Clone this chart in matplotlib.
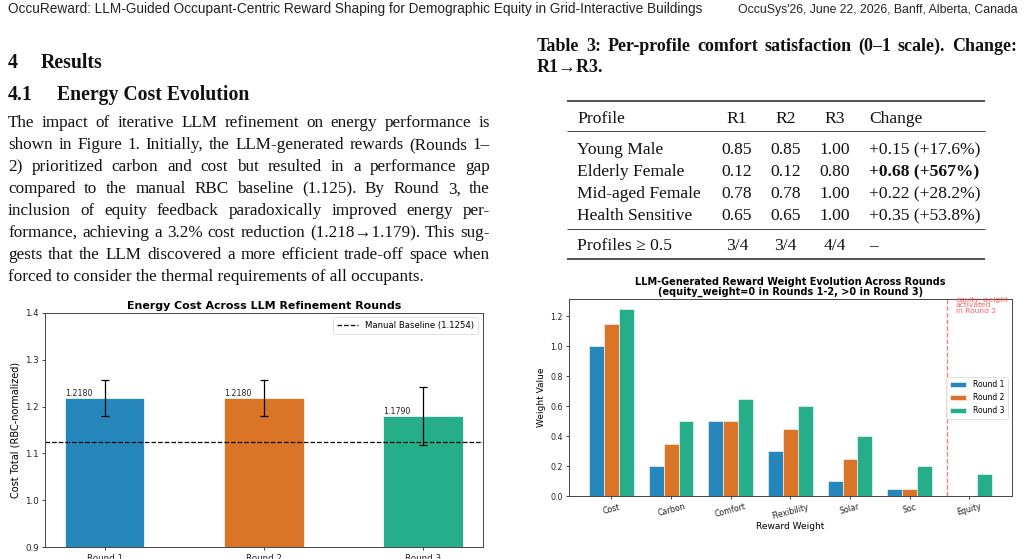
import matplotlib
matplotlib.use("Agg")
import matplotlib.pyplot as plt
from matplotlib import font_manager as fm
import numpy as np

# ---------------- data ----------------
header_left = "OccuReward: LLM-Guided Occupant-Centric Reward Shaping for Demographic Equity in Grid-Interactive Buildings"
header_right = "OccuSys'26, June 22, 2026, Banff, Alberta, Canada"

body_lines = [
    "The impact of iterative LLM refinement on energy performance is",
    "shown in Figure 1. Initially, the LLM-generated rewards (Rounds 1–",
    "2) prioritized carbon and cost but resulted in a performance gap",
    "compared to the manual RBC baseline (1.125). By Round 3, the",
    "inclusion of equity feedback paradoxically improved energy per-",
    "formance, achieving a 3.2% cost reduction (1.218→1.179). This sug-",
    "gests that the LLM discovered a more efficient trade-off space when",
    "forced to consider the thermal requirements of all occupants.",
]

caption_lines = ["Table 3: Per-profile comfort satisfaction (0–1 scale). Change:", "R1→R3."]
table_header = ["Profile", "R1", "R2", "R3", "Change"]
profiles = ["Young Male", "Elderly Female", "Mid-aged Female", "Health Sensitive"]
r1_vals = ["0.85", "0.12", "0.78", "0.65"]
r2_vals = ["0.85", "0.12", "0.78", "0.65"]
r3_vals = ["1.00", "0.80", "1.00", "1.00"]
changes = ["+0.15 (+17.6%)", "+0.68 (+567%)", "+0.22 (+28.2%)", "+0.35 (+53.8%)"]
bold_change = [False, True, False, False]
summary_row = ["Profiles ≥ 0.5", "3/4", "3/4", "4/4", "–"]

rounds = ["Round 1", "Round 2", "Round 3"]
cost_values = [1.218, 1.218, 1.179]
cost_errors = [0.038, 0.038, 0.062]
manual_baseline = 1.1254

weight_names = ["Cost", "Carbon", "Comfort", "Flexibility", "Solar", "Soc", "Equity"]
w_round1 = [1.00, 0.20, 0.50, 0.30, 0.10, 0.05, 0.00]
w_round2 = [1.15, 0.35, 0.50, 0.45, 0.25, 0.05, 0.00]
w_round3 = [1.25, 0.50, 0.65, 0.60, 0.40, 0.20, 0.15]

colors = ["#2687BD", "#DA7427", "#26AE8A"]

# ---------------- figure ----------------
W, H = 1024, 559
fig = plt.figure(figsize=(W / 100, H / 100), dpi=100)
page = fig.add_axes([0, 0, 1, 1], zorder=0)
page.set_xlim(0, W)
page.set_ylim(H, 0)
page.axis("off")
renderer = fig.canvas.get_renderer()

names = {f.name for f in fm.fontManager.ttflist}
serif = [n for n in ["Liberation Serif", "DejaVu Serif"] if n in names] or ["serif"]
hdr_fam = [n for n in ["Liberation Sans Narrow", "Liberation Sans", "DejaVu Sans"] if n in names]


def width_of(s, **kw):
    t = page.text(0, 0, s, **kw)
    w = t.get_window_extent(renderer).width
    t.remove()
    return w


def fit_text(x0, x1, y, s, **kw):
    w = width_of(s, fontsize=10, **kw)
    fs = 10 * (x1 - x0) / w
    page.text(x0, y, s, fontsize=fs, va="baseline", ha="left", **kw)


def justify(x0, x1, y, s, **kw):
    words = s.split(" ")
    ws = [width_of(w, **kw) for w in words]
    gap = (x1 - x0 - sum(ws)) / (len(words) - 1)
    x = x0
    for w, ww in zip(words, ws):
        page.text(x, y, w, va="baseline", ha="left", **kw)
        x += ww + gap


def auto_size(lines, target, cap, **kw):
    mw = max(width_of(l, fontsize=10, **kw) for l in lines)
    return min(10 * target / mw, cap)


# header
fit_text(8, 702, 12.5, header_left, family=hdr_fam, color="#222222")
fit_text(738, 1018, 12.5, header_right, family=hdr_fam, color="#222222")

# headings
hkw = dict(family=serif, fontsize=14.2, fontweight="bold", va="baseline", color="#111111")
page.text(8, 68.3, "4", **hkw)
page.text(40.7, 68.3, "Results", **hkw)
page.text(8, 100.3, "4.1", **hkw)
page.text(57.3, 100.3, "Energy Cost Evolution", **hkw)

# body
bfs = auto_size(body_lines[:-1], 474, 13.6, family=serif)
bkw = dict(family=serif, fontsize=bfs, color="#111111")
for i, line in enumerate(body_lines):
    y = 127.3 + 22 * i
    if i < len(body_lines) - 1:
        justify(8, 490, y, line, **bkw)
    else:
        page.text(8, y, line, va="baseline", ha="left", **bkw)

# table caption
cfs = auto_size(caption_lines[:1], 470, 13.0, family=serif, fontweight="bold")
ckw = dict(family=serif, fontsize=cfs, fontweight="bold", color="#111111")
justify(537, 1017, 51, caption_lines[0], **ckw)
page.text(537, 71.5, caption_lines[1], va="baseline", ha="left", **ckw)

# table
tkw = dict(family=serif, fontsize=12.6, color="#111111", va="baseline")
rx0, rx1 = 567, 985
for yy, lw in [(100.7, 1.1), (130.7, 0.6), (229, 0.6), (259, 1.1)]:
    page.plot([rx0, rx1], [yy, yy], color="#222222", lw=lw, solid_capstyle="butt")
col_profile, col_r1, col_r2, col_r3, col_change = 577, 737, 785.5, 835, 869
yh = 122.7
page.text(col_profile, yh, table_header[0], ha="left", **tkw)
page.text(col_r1, yh, table_header[1], ha="center", **tkw)
page.text(col_r2, yh, table_header[2], ha="center", **tkw)
page.text(col_r3, yh, table_header[3], ha="center", **tkw)
page.text(col_change, yh, table_header[4], ha="left", **tkw)
for i in range(len(profiles)):
    y = 154 + 22 * i
    page.text(col_profile, y, profiles[i], ha="left", **tkw)
    page.text(col_r1, y, r1_vals[i], ha="center", **tkw)
    page.text(col_r2, y, r2_vals[i], ha="center", **tkw)
    page.text(col_r3, y, r3_vals[i], ha="center", **tkw)
    page.text(col_change, y, changes[i], ha="left",
              fontweight="bold" if bold_change[i] else "normal", **tkw)
ys = 250
page.text(col_profile, ys, summary_row[0], ha="left", **tkw)
page.text(col_r1, ys, summary_row[1], ha="center", **tkw)
page.text(col_r2, ys, summary_row[2], ha="center", **tkw)
page.text(col_r3, ys, summary_row[3], ha="center", **tkw)
page.text(col_change, ys, summary_row[4], ha="left", **tkw)


def px_axes(l, t, r, b):
    return fig.add_axes([l / W, (H - b) / H, (r - l) / W, (b - t) / H], zorder=2)


spine_c = "#444444"

# ---------------- chart 1 ----------------
ax1 = px_axes(45, 312.7, 482.7, 547.3)
x = np.arange(len(rounds))
bars = ax1.bar(x, cost_values, width=0.5, color=colors, edgecolor="white", linewidth=0.5,
               yerr=cost_errors, capsize=3.2, error_kw=dict(elinewidth=0.9, capthick=0.9, ecolor="black"))
ax1.axhline(manual_baseline, color="black", linestyle="--", linewidth=0.9,
            label=f"Manual Baseline ({manual_baseline:.4f})")
for b, v in zip(bars, cost_values):
    ax1.text(b.get_x(), v, f"{v:.4f}", ha="left", va="bottom", fontsize=5.7, color="#222222")
ax1.set_ylim(0.9, 1.4)
ax1.set_yticks([0.9, 1.0, 1.1, 1.2, 1.3, 1.4])
ax1.set_xticks(x)
ax1.set_xticklabels(rounds)
ax1.tick_params(labelsize=6.3, length=2.5, width=0.6, pad=2, colors="#222222")
ax1.set_ylabel("Cost Total (RBC-normalized)", fontsize=7.0, labelpad=3)
ax1.set_title("Energy Cost Across LLM Refinement Rounds", fontsize=7.9, fontweight="bold", pad=3)
leg = ax1.legend(loc="upper right", fontsize=6.1, frameon=True, handlelength=2.5,
                 borderpad=0.5, framealpha=0.8)
leg.get_frame().set_linewidth(0.5)
for s in ax1.spines.values():
    s.set_color(spine_c)
    s.set_linewidth(0.7)

# ---------------- chart 2 ----------------
ax2 = px_axes(569, 299.3, 1011.7, 496)
xi = np.arange(len(weight_names))
bw = 0.25
for k, (vals, lab) in enumerate(zip([w_round1, w_round2, w_round3], rounds)):
    ax2.bar(xi + (k - 1) * bw, vals, width=bw, color=colors[k], edgecolor="white",
            linewidth=0.4, label=lab)
ax2.axvline(5.63, color="#FF5555", linestyle="--", linewidth=0.9, alpha=0.8)
ax2.text(5.77, 1.335, "equity_weight\nactivated\nin Round 3", color="#FF4444", alpha=0.85,
         fontsize=5.4, va="top", ha="left", linespacing=0.95)
ax2.set_xticks(xi)
ax2.set_xticklabels(weight_names, rotation=15)
ax2.set_yticks([0.0, 0.2, 0.4, 0.6, 0.8, 1.0, 1.2])
ax2.tick_params(labelsize=5.7, length=2.5, width=0.6, pad=2, colors="#222222")
ax2.set_xlabel("Reward Weight", fontsize=6.5, labelpad=1)
ax2.set_ylabel("Weight Value", fontsize=6.5, labelpad=3)
ax2.set_title("LLM-Generated Reward Weight Evolution Across Rounds\n(equity_weight=0 in Rounds 1-2, >0 in Round 3)",
              fontsize=7.0, fontweight="bold", pad=3, linespacing=1.0)
leg2 = ax2.legend(loc="center right", fontsize=5.5, frameon=True, handlelength=2.2,
                  borderpad=0.5, framealpha=0.8)
leg2.get_frame().set_linewidth(0.5)
for s in ax2.spines.values():
    s.set_color(spine_c)
    s.set_linewidth(0.7)

fig.savefig("out.png", dpi=100)
